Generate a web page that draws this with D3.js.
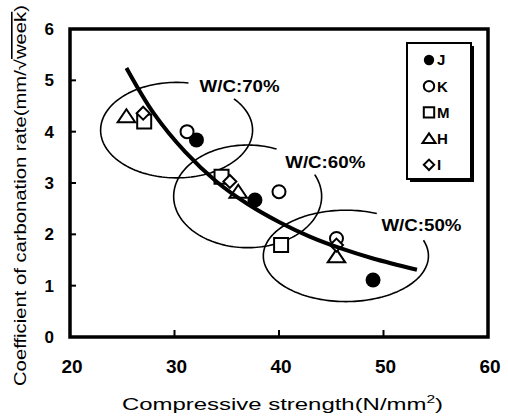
<!DOCTYPE html>
<html>
<head>
<meta charset="utf-8">
<script src="https://cdn.jsdelivr.net/npm/d3@7"></script>
<style>
  body { margin: 0; background: #fff; }
  svg { display: block; font-family: "Liberation Sans", Arial, sans-serif; }
</style>
</head>
<body>
<svg width="508" height="417"></svg>
<script>
// Chart data
var series = ["J", "K", "M", "H", "I"];
var shapes = ["dot", "circle", "square", "triangle", "diamond"];
var strengthJ = [32.1, 37.7, 49.0];
var rateJ = [3.84, 2.67, 1.11];
var strengthK = [31.2, 40.0, 45.5];
var rateK = [4.00, 2.83, 1.92];
var strengthM = [27.1, 34.5, 40.2];
var rateM = [4.20, 3.12, 1.79];
var strengthH = [25.4, 36.1, 45.5];
var rateH = [4.30, 2.83, 1.57];
var strengthI = [27.0, 35.3, 45.5];
var rateI = [4.36, 3.03, 1.79];

// trend curve, points
var curveX = [25.4, 28, 31, 34, 37, 40, 43, 46, 49, 53.2];
var curveY = [5.24, 4.36, 3.61, 3.03, 2.59, 2.24, 1.95, 1.72, 1.53, 1.31];

// W/C groups: centre and half widths in data units
var groupLabels = ["W/C:70%", "W/C:60%", "W/C:50%"];
var groupCx = [30.2, 37.0, 46.4];
var groupCy = [4.03, 2.74, 1.58];
var groupRx = [7.27, 7.08, 7.9];
var groupRy = [0.93, 1.0, 0.89];
var labelX = [32.4, 40.6, 49.8];
var labelY = [4.89, 3.41, 2.18];

var xTicks = [20, 30, 40, 50, 60];
var yTicks = [0, 1, 2, 3, 4, 5, 6];

var xs = [strengthJ, strengthK, strengthM, strengthH, strengthI];
var ys = [rateJ, rateK, rateM, rateH, rateI];

var svg = d3.select("svg");
var x = d3.scaleLinear().domain([20, 60]).range([70, 488]);
var y = d3.scaleLinear().domain([0, 6]).range([337, 29]);

// marker path around the origin
function markerPath(shape, s) {
    if (shape === "square") {
        return "M" + (-s) + "," + (-s) + "H" + s + "V" + s + "H" + (-s) + "Z";
    }
    if (shape === "triangle") {
        var w = s * 1.25;
        return "M0," + (-s) + "L" + w + "," + (s * 0.85) + "L" + (-w) + "," + (s * 0.85) + "Z";
    }
    if (shape === "diamond") {
        return "M0," + (-s) + "L" + s + ",0L0," + s + "L" + (-s) + ",0Z";
    }
    return d3.arc()({ innerRadius: 0, outerRadius: s, startAngle: 0, endAngle: 2 * Math.PI });
}

// ellipses, open at the top right where the label sits
var gapStart = [-80, -66, -68];
var gapEnd = [-41, -25, -20];
groupLabels.forEach(function (lab, i) {
    var pts = d3.range(gapEnd[i], 360 + gapStart[i] + 1, 2).map(function (a) {
        var t = a * Math.PI / 180;
        return [x(groupCx[i] + groupRx[i] * Math.cos(t)), y(groupCy[i] - groupRy[i] * Math.sin(t))];
    });
    svg.append("path")
        .attr("d", d3.line()(pts))
        .attr("fill", "none")
        .attr("stroke", "#000")
        .attr("stroke-width", 1.6);
    svg.append("text")
        .attr("x", x(labelX[i]))
        .attr("y", y(labelY[i]))
        .attr("dy", "0.36em")
        .attr("font-size", "17px")
        .attr("font-weight", "bold")
        .attr("textLength", 80)
        .attr("lengthAdjust", "spacingAndGlyphs")
        .text(lab);
});

// points
var sizes = { dot: 7.5, circle: 6.5, square: 7, triangle: 7, diamond: 6.5 };
series.forEach(function (name, i) {
    var shape = shapes[i];
    var pts = xs[i].map(function (v, j) { return [v, ys[i][j]]; });
    svg.selectAll(".pt-" + name)
        .data(pts)
        .enter()
        .append("path")
        .attr("class", "pt-" + name)
        .attr("transform", function (d) { return "translate(" + x(d[0]) + "," + y(d[1]) + ")"; })
        .attr("d", markerPath(shape, sizes[shape]))
        .attr("fill", shape === "dot" ? "#000" : "#fff")
        .attr("stroke", "#000")
        .attr("stroke-width", shape === "dot" ? 0 : 2);
});

// trend curve
svg.append("path")
    .datum(curveX.map(function (v, i) { return [v, curveY[i]]; }))
    .attr("d", d3.line()
        .x(function (d) { return x(d[0]); })
        .y(function (d) { return y(d[1]); })
        .curve(d3.curveCatmullRom))
    .attr("fill", "none")
    .attr("stroke", "#000")
    .attr("stroke-width", 4);

// frame
svg.append("rect")
    .attr("x", 70).attr("y", 29)
    .attr("width", 418).attr("height", 308)
    .attr("fill", "none")
    .attr("stroke", "#000")
    .attr("stroke-width", 3.5);

// ticks
svg.selectAll(".ytick")
    .data(yTicks.slice(1, -1))
    .enter()
    .append("line")
    .attr("x1", 70).attr("x2", 76)
    .attr("y1", d => y(d)).attr("y2", d => y(d))
    .attr("stroke", "#000").attr("stroke-width", 2);
svg.selectAll(".xtick")
    .data(xTicks.slice(1, -1))
    .enter()
    .append("line")
    .attr("x1", d => x(d)).attr("x2", d => x(d))
    .attr("y1", 337).attr("y2", 330)
    .attr("stroke", "#000").attr("stroke-width", 2);

// tick labels
svg.selectAll(".ylab")
    .data(yTicks)
    .enter()
    .append("text")
    .attr("x", 54)
    .attr("y", d => y(d))
    .attr("dy", "0.36em")
    .attr("text-anchor", "end")
    .attr("font-size", "17px")
    .attr("font-weight", "bold")
    .text(d => d);
svg.selectAll(".xlab")
    .data(xTicks)
    .enter()
    .append("text")
    .attr("x", d => x(d) + 2)
    .attr("y", 373)
    .attr("text-anchor", "middle")
    .attr("font-size", "19px")
    .attr("font-weight", "bold")
    .text(d => d);

// axis titles
var xt = svg.append("text")
    .attr("x", 122)
    .attr("y", 410)
    .attr("font-size", "17px")
    .attr("textLength", 321)
    .attr("lengthAdjust", "spacingAndGlyphs");
xt.append("tspan").text("Compressive strength(N/mm");
xt.append("tspan").attr("dy", -7).attr("font-size", "11px").text("2");
xt.append("tspan").attr("dy", 7).text(")");

var yt = svg.append("text")
    .attr("transform", "translate(26,386) rotate(-90)")
    .attr("font-size", "16px")
    .attr("textLength", 381)
    .attr("lengthAdjust", "spacingAndGlyphs");
yt.append("tspan").text("Coefficient of carbonation rate(mm/\u221A");
yt.append("tspan").style("text-decoration", "overline").text("week");
yt.append("tspan").text(")");

// legend
var lg = svg.append("g");
lg.append("rect")
    .attr("x", 410).attr("y", 46)
    .attr("width", 64).attr("height", 136)
    .attr("fill", "#000");
lg.append("rect")
    .attr("x", 407).attr("y", 43)
    .attr("width", 64).attr("height", 136)
    .attr("fill", "#fff")
    .attr("stroke", "#000")
    .attr("stroke-width", 2);
series.forEach(function (name, i) {
    var cy = 60 + i * 26.2;
    lg.append("path")
        .attr("transform", "translate(429," + cy + ")")
        .attr("d", markerPath(shapes[i], 5.2))
        .attr("fill", shapes[i] === "dot" ? "#000" : "#fff")
        .attr("stroke", "#000")
        .attr("stroke-width", shapes[i] === "dot" ? 0 : 2);
    lg.append("text")
        .attr("x", 437)
        .attr("y", cy)
        .attr("dy", "0.36em")
        .attr("font-size", "15px")
        .attr("font-weight", "bold")
        .text(name);
});
</script>
</body>
</html>
